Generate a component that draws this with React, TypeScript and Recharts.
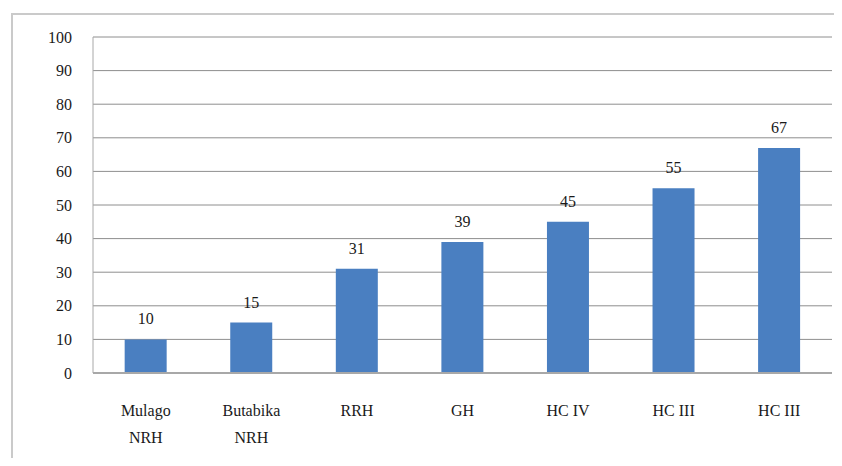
import { BarChart, Bar, XAxis, YAxis, CartesianGrid, LabelList } from "recharts";

const categories = ["Mulago\nNRH", "Butabika\nNRH", "RRH", "GH", "HC IV", "HC III", "HC III"];
const values = [10, 15, 31, 39, 45, 55, 67];
const yTicks = [0, 10, 20, 30, 40, 50, 60, 70, 80, 90, 100];

const data = categories.map((name, i) => ({ name, value: values[i] }));

const FONT = "'Times New Roman', 'Liberation Serif', 'DejaVu Serif'";
const textStyle = { fontFamily: FONT, fontSize: 16 };

function CategoryTick(props: any) {
  const { x, y, payload } = props;
  const lines = String(payload.value).split("\n");
  return (
    <g transform={`translate(${x},${y})`}>
      {lines.map((line, i) => (
        <text key={i} x={0} y={35 + i * 27} textAnchor="middle" style={textStyle} fill="#1a1a1a">
          {line}
        </text>
      ))}
    </g>
  );
}

export default function App() {
  return (
    <div style={{ position: "relative", width: 842, height: 466, margin: -8, background: "#fff" }}>
      <div
        style={{
          position: "absolute", left: 11, top: 13, width: 840, height: 451,
          border: "2px solid #cacaca", boxSizing: "border-box",
        }}
      />
      <div style={{ position: "absolute", left: 0, top: 0, fontFamily: FONT }}>
        <BarChart width={842} height={466} data={data} margin={{ top: 37, right: 10, bottom: 33, left: 33 }}
          barCategoryGap="30%">
          <CartesianGrid vertical={false} stroke="#8e8e8e" />
          <XAxis dataKey="name" interval={0} height={60} tickLine={false} axisLine={{ stroke: "#a8a8a8", strokeWidth: 2 }}
            tick={<CategoryTick />} />
          <YAxis domain={[0, 100]} ticks={yTicks} width={60} tickLine={false} tickSize={0} tickMargin={21}
            axisLine={{ stroke: "#a8a8a8" }}
            tick={{ style: textStyle, fill: "#1a1a1a" }} />
          <Bar dataKey="value" fill="#4a7fc1" isAnimationActive={false}>
            <LabelList dataKey="value" position="top" offset={15} style={textStyle} fill="#1a1a1a" />
          </Bar>
        </BarChart>
      </div>
    </div>
  );
}
